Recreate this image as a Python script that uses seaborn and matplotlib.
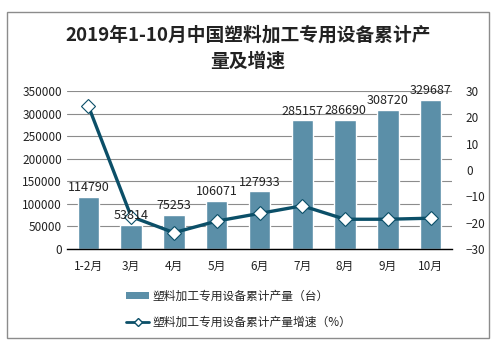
import numpy as np
import pandas as pd
import matplotlib
matplotlib.use("Agg")
import matplotlib.pyplot as plt
import seaborn as sns
from matplotlib.patches import Rectangle
from matplotlib.lines import Line2D
from matplotlib.patches import Patch

# ---- data ----
months = ["1-2月", "3月", "4月", "5月", "6月", "7月", "8月", "9月", "10月"]
output = [114790, 53814, 75253, 106071, 127933, 285157, 286690, 308720, 329687]
growth = [24.3, -17.7, -23.8, -19.4, -16.5, -13.6, -18.7, -18.7, -18.3]

bar_label = "塑料加工专用设备累计产量（台）"
line_label = "塑料加工专用设备累计产量增速（%）"
title = "2019年1-10月中国塑料加工专用设备累计产\n量及增速"

bar_color = "#5b8fa8"
line_color = "#0b4f68"

sns.set_style("white")
plt.rcParams["font.family"] = ["Noto Sans CJK SC", "DejaVu Sans"]

df = pd.DataFrame({"month": months, "output": output, "growth": growth})

fig = plt.figure(figsize=(4.96, 3.52), dpi=100)
ax = fig.add_axes([67 / 496, 1 - 249 / 352, (452 - 67) / 496, (249 - 91) / 352])

sns.barplot(data=df, x="month", y="output", color=bar_color, width=0.5,
            saturation=1, ax=ax, zorder=2)
ax.set_ylim(0, 350000)
ax.set_yticks(np.arange(0, 350001, 50000))
ax.yaxis.grid(True, color="#8c8c8c", linewidth=0.8, zorder=0)
ax.set_axisbelow(True)
ax.set_xlabel("")
ax.set_ylabel("")
for s in ["left", "right", "top"]:
    ax.spines[s].set_visible(False)
ax.spines["bottom"].set_color("black")
ax.spines["bottom"].set_linewidth(1)
ax.tick_params(axis="both", length=0, labelsize=8.5, colors="#222222")
ax.tick_params(axis="x", pad=8)

ax2 = ax.twinx()
sns.pointplot(data=df, x="month", y="growth", color=line_color, markers="D",
              linewidth=2.4, markersize=7, ax=ax2,
              markerfacecolor="white", markeredgecolor=line_color,
              markeredgewidth=0.8)
ax2.set_ylim(-30, 30)
ax2.set_yticks(np.arange(-30, 31, 10))
ax2.set_ylabel("")
ax2.set_xlabel("")
for s in ["left", "right", "top", "bottom"]:
    ax2.spines[s].set_visible(False)
ax2.tick_params(axis="y", length=0, labelsize=8.5, colors="#222222", pad=10)

# bar value labels (in bar coordinates, drawn above the line)
for i, v in enumerate(output):
    ax2.text(i, v + 6000, str(v), transform=ax.transData, ha="center",
             va="bottom", fontsize=9, color="#222222", zorder=5)

fig.text(0.5, 1 - 48 / 352, title, ha="center", va="center", fontsize=13.5,
         fontweight="bold", color="#222222", linespacing=1.45)

handles = [Patch(facecolor=bar_color, edgecolor="none"),
           Line2D([0], [0], color=line_color, linewidth=2, marker="D",
                  markersize=4, markerfacecolor="white",
                  markeredgecolor=line_color)]
fig.legend(handles, [bar_label, line_label], loc="upper left",
           bbox_to_anchor=(121 / 496, 1 - 285 / 352), frameon=False,
           fontsize=8.5, handlelength=2.0, handletextpad=0.3,
           labelspacing=1.1, borderaxespad=0, handleheight=0.5)

fig.patches.append(Rectangle((7 / 496, 14 / 352), 482 / 496, 326 / 352,
                             transform=fig.transFigure, fill=False,
                             edgecolor="#8c8c8c", linewidth=1))

fig.savefig("out.png", dpi=100)
